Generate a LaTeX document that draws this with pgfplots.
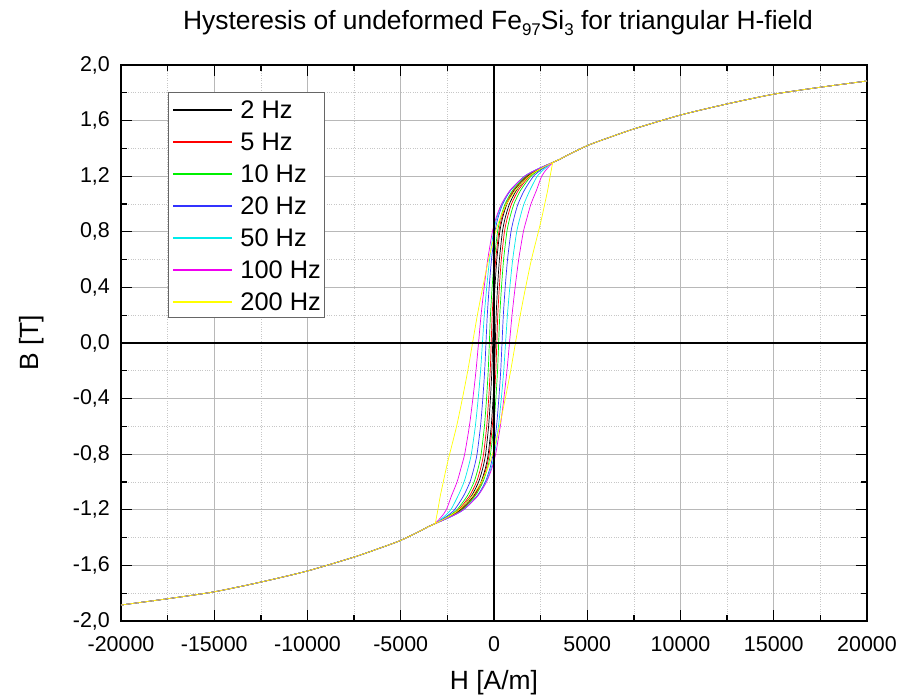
\documentclass[border=0pt]{standalone}
\usepackage{pgfplots}
\pgfplotsset{compat=1.18}
\usepackage{fontspec}
\setmainfont{Liberation Sans}
\definecolor{hzA}{RGB}{0,0,0}
\definecolor{hzB}{RGB}{255,0,0}
\definecolor{hzC}{RGB}{0,240,0}
\definecolor{hzD}{RGB}{50,50,255}
\definecolor{hzE}{RGB}{0,235,235}
\definecolor{hzF}{RGB}{240,0,240}
\definecolor{hzG}{RGB}{255,255,0}
\begin{document}
\begin{tikzpicture}
\useasboundingbox (-121bp,-77bp) rectangle (779bp,621bp);
\begin{axis}[
  scale only axis, width=746bp, height=556bp,
  xmin=-20000, xmax=20000, ymin=-2, ymax=2,
  xtick={-20000,-15000,-10000,-5000,0,5000,10000,15000,20000},
  ytick={-2,-1.6,-1.2,-0.8,-0.4,0,0.4,0.8,1.2,1.6,2},
  scaled x ticks=false, scaled y ticks=false,
  minor x tick num=1, minor y tick num=1,
  tick align=inside, major tick length=11bp, minor tick length=6bp,
  grid=both,
  major grid style={black!28, line width=0.8bp},
  minor grid style={black!22, dotted, line width=0.6bp},
  axis line style={line width=1.5bp},
  tick style={black, line width=1.3bp},
  /pgf/number format/assume math mode=true,
  ticklabel style={font=\fontsize{21.5}{25}\selectfont},
  x tick label style={inner sep=0pt, yshift=-15bp, /pgf/number format/.cd, fixed, precision=0, 1000 sep={}, assume math mode=true},
  y tick label style={inner sep=0pt, xshift=-11bp, /pgf/number format/.cd, fixed, fixed zerofill, precision=1, use comma, assume math mode=true},
  title={Hysteresis of undeformed Fe\raisebox{-0.5ex}{\fontsize{17}{20}\selectfont 97}Si\raisebox{-0.5ex}{\fontsize{17}{20}\selectfont 3} for triangular H-field},
  title style={font=\fontsize{26.5}{30}\selectfont, at={(axis description cs:0.5,1)}, anchor=base, yshift=30bp, xshift=4bp},
  xlabel={H [A/m]},
  xlabel style={font=\fontsize{26.5}{30}\selectfont, at={(axis description cs:0.5,-0.1115)}, anchor=center},
  ylabel={B [T]},
  ylabel style={font=\fontsize{26.5}{30}\selectfont, at={(axis description cs:-0.1193,0.5)}, anchor=center, rotate=0},
  legend cell align=left,
  legend image code/.code={\draw[#1, line width=2bp, sharp plot] (0bp,9bp) -- (59bp,9bp);},
  legend style={at={(0.063,0.951)}, anchor=north west, font=\fontsize{25.5}{30}\selectfont,
    draw=black!60, line width=0.8bp, inner xsep=4bp, inner ysep=7bp,
    nodes={inner sep=0pt, text height=19bp, text depth=0bp, anchor=base west},
    row sep=13bp, column sep=7bp},
  every axis plot/.append style={line width=0.7bp, smooth, tension=0.4},
]
% 2 Hz
\addplot[color=hzA] coordinates {
(-20000,-1.885) (-17500,-1.84) (-15000,-1.79) (-12500,-1.72) (-10000,-1.64) (-7500,-1.54) (-6000,-1.47) (-5000,-1.42) (-4000,-1.355) (-3500,-1.32) (-3170,-1.30)
(-2379,-1.25) (-1761,-1.2) (-1090,-1.1) (-693,-1.0) (-460,-0.9) (-310,-0.8) (-150,-0.6) (-50,-0.4) (25,-0.2) (70,0) (115,0.2) (190,0.4) (290,0.6) (450,0.8) (600,0.9) (827,1.0) (1210,1.1) (1839,1.2) (2421,1.25)
(3170,1.30) (3500,1.32) (4000,1.355) (5000,1.42) (6000,1.47) (7500,1.54) (10000,1.64) (12500,1.72) (15000,1.79) (17500,1.84) (20000,1.885)
(17500,1.84) (15000,1.79) (12500,1.72) (10000,1.64) (7500,1.54) (6000,1.47) (5000,1.42) (4000,1.355) (3500,1.32) (3170,1.30)
(2379,1.25) (1761,1.2) (1090,1.1) (693,1.0) (460,0.9) (310,0.8) (150,0.6) (50,0.4) (-25,0.2) (-70,0) (-115,-0.2) (-190,-0.4) (-290,-0.6) (-450,-0.8) (-600,-0.9) (-827,-1.0) (-1210,-1.1) (-1839,-1.2) (-2421,-1.25)
(-3170,-1.30) (-3500,-1.32) (-4000,-1.355) (-5000,-1.42) (-6000,-1.47) (-7500,-1.54) (-10000,-1.64) (-12500,-1.72) (-15000,-1.79) (-17500,-1.84) (-20000,-1.885)};
\addlegendentry{2 Hz}
% 5 Hz
\addplot[color=hzB] coordinates {
(-20000,-1.885) (-17500,-1.84) (-15000,-1.79) (-12500,-1.72) (-10000,-1.64) (-7500,-1.54) (-6000,-1.47) (-5000,-1.42) (-4000,-1.355) (-3500,-1.32) (-3170,-1.30)
(-2369,-1.25) (-1741,-1.2) (-1057,-1.1) (-652,-1.0) (-413,-0.9) (-260,-0.8) (-92,-0.6) (15,-0.4) (98,-0.2) (150,0) (202,0.2) (285,0.4) (392,0.6) (560,0.8) (713,0.9) (938,1.0) (1313,1.1) (1907,1.2) (2459,1.25)
(3170,1.30) (3500,1.32) (4000,1.355) (5000,1.42) (6000,1.47) (7500,1.54) (10000,1.64) (12500,1.72) (15000,1.79) (17500,1.84) (20000,1.885)
(17500,1.84) (15000,1.79) (12500,1.72) (10000,1.64) (7500,1.54) (6000,1.47) (5000,1.42) (4000,1.355) (3500,1.32) (3170,1.30)
(2369,1.25) (1741,1.2) (1057,1.1) (652,1.0) (413,0.9) (260,0.8) (92,0.6) (-15,0.4) (-98,0.2) (-150,0) (-202,-0.2) (-285,-0.4) (-392,-0.6) (-560,-0.8) (-713,-0.9) (-938,-1.0) (-1313,-1.1) (-1907,-1.2) (-2459,-1.25)
(-3170,-1.30) (-3500,-1.32) (-4000,-1.355) (-5000,-1.42) (-6000,-1.47) (-7500,-1.54) (-10000,-1.64) (-12500,-1.72) (-15000,-1.79) (-17500,-1.84) (-20000,-1.885)};
\addlegendentry{5 Hz}
% 10 Hz
\addplot[color=hzC] coordinates {
(-20000,-1.885) (-17500,-1.84) (-15000,-1.79) (-12500,-1.72) (-10000,-1.64) (-7500,-1.54) (-6000,-1.47) (-5000,-1.42) (-4000,-1.355) (-3500,-1.32) (-3170,-1.30)
(-2353,-1.25) (-1712,-1.2) (-1007,-1.1) (-593,-1.0) (-348,-0.9) (-190,-0.8) (-15,-0.6) (100,-0.4) (190,-0.2) (250,0) (310,0.2) (400,0.4) (515,0.6) (690,0.8) (848,0.9) (1069,1.0) (1433,1.1) (1988,1.2) (2503,1.25)
(3170,1.30) (3500,1.32) (4000,1.355) (5000,1.42) (6000,1.47) (7500,1.54) (10000,1.64) (12500,1.72) (15000,1.79) (17500,1.84) (20000,1.885)
(17500,1.84) (15000,1.79) (12500,1.72) (10000,1.64) (7500,1.54) (6000,1.47) (5000,1.42) (4000,1.355) (3500,1.32) (3170,1.30)
(2353,1.25) (1712,1.2) (1007,1.1) (593,1.0) (348,0.9) (190,0.8) (15,0.6) (-100,0.4) (-190,0.2) (-250,0) (-310,-0.2) (-400,-0.4) (-515,-0.6) (-690,-0.8) (-848,-0.9) (-1069,-1.0) (-1433,-1.1) (-1988,-1.2) (-2503,-1.25)
(-3170,-1.30) (-3500,-1.32) (-4000,-1.355) (-5000,-1.42) (-6000,-1.47) (-7500,-1.54) (-10000,-1.64) (-12500,-1.72) (-15000,-1.79) (-17500,-1.84) (-20000,-1.885)};
\addlegendentry{10 Hz}
% 20 Hz
\addplot[color=hzD] coordinates {
(-20000,-1.885) (-17500,-1.84) (-15000,-1.79) (-12500,-1.72) (-10000,-1.64) (-7500,-1.54) (-6000,-1.47) (-5000,-1.42) (-4000,-1.355) (-3500,-1.32) (-3170,-1.30)
(-2318,-1.25) (-1646,-1.2) (-901,-1.1) (-470,-1.0) (-213,-0.9) (-50,-0.8) (135,-0.6) (260,-0.4) (360,-0.2) (430,0) (500,0.2) (600,0.4) (725,0.6) (910,0.8) (1073,0.9) (1288,1.0) (1633,1.1) (2120,1.2) (2576,1.25)
(3170,1.30) (3500,1.32) (4000,1.355) (5000,1.42) (6000,1.47) (7500,1.54) (10000,1.64) (12500,1.72) (15000,1.79) (17500,1.84) (20000,1.885)
(17500,1.84) (15000,1.79) (12500,1.72) (10000,1.64) (7500,1.54) (6000,1.47) (5000,1.42) (4000,1.355) (3500,1.32) (3170,1.30)
(2318,1.25) (1646,1.2) (901,1.1) (470,1.0) (213,0.9) (50,0.8) (-135,0.6) (-260,0.4) (-360,0.2) (-430,0) (-500,-0.2) (-600,-0.4) (-725,-0.6) (-910,-0.8) (-1073,-0.9) (-1288,-1.0) (-1633,-1.1) (-2120,-1.2) (-2576,-1.25)
(-3170,-1.30) (-3500,-1.32) (-4000,-1.355) (-5000,-1.42) (-6000,-1.47) (-7500,-1.54) (-10000,-1.64) (-12500,-1.72) (-15000,-1.79) (-17500,-1.84) (-20000,-1.885)};
\addlegendentry{20 Hz}
% 50 Hz
\addplot[color=hzE] coordinates {
(-20000,-1.885) (-17500,-1.84) (-15000,-1.79) (-12500,-1.72) (-10000,-1.64) (-7500,-1.54) (-6000,-1.47) (-5000,-1.42) (-4000,-1.355) (-3500,-1.32) (-3170,-1.30)
(-2315,-1.25) (-1637,-1.2) (-875,-1.1) (-428,-1.0) (-153,-0.9) (24,-0.8) (238,-0.6) (392,-0.4) (521,-0.2) (620,0) (719,0.2) (848,0.4) (1002,0.6) (1216,0.8) (1393,0.9) (1606,1.0) (1929,1.1) (2319,1.2) (2687,1.25)
(3170,1.30) (3500,1.32) (4000,1.355) (5000,1.42) (6000,1.47) (7500,1.54) (10000,1.64) (12500,1.72) (15000,1.79) (17500,1.84) (20000,1.885)
(17500,1.84) (15000,1.79) (12500,1.72) (10000,1.64) (7500,1.54) (6000,1.47) (5000,1.42) (4000,1.355) (3500,1.32) (3170,1.30)
(2315,1.25) (1637,1.2) (875,1.1) (428,1.0) (153,0.9) (-24,0.8) (-238,0.6) (-392,0.4) (-521,0.2) (-620,0) (-719,-0.2) (-848,-0.4) (-1002,-0.6) (-1216,-0.8) (-1393,-0.9) (-1606,-1.0) (-1929,-1.1) (-2319,-1.2) (-2687,-1.25)
(-3170,-1.30) (-3500,-1.32) (-4000,-1.355) (-5000,-1.42) (-6000,-1.47) (-7500,-1.54) (-10000,-1.64) (-12500,-1.72) (-15000,-1.79) (-17500,-1.84) (-20000,-1.885)};
\addlegendentry{50 Hz}
% 100 Hz
\addplot[color=hzF] coordinates {
(-20000,-1.885) (-17500,-1.84) (-15000,-1.79) (-12500,-1.72) (-10000,-1.64) (-7500,-1.54) (-6000,-1.47) (-5000,-1.42) (-4000,-1.355) (-3500,-1.32) (-3170,-1.30)
(-2322,-1.25) (-1643,-1.2) (-869,-1.1) (-403,-1.0) (-110,-0.9) (86,-0.8) (337,-0.6) (528,-0.4) (694,-0.2) (830,0) (966,0.2) (1132,0.4) (1323,0.6) (1574,0.8) (1770,0.9) (1981,1.0) (2281,1.1) (2557,1.2) (2820,1.25)
(3170,1.30) (3500,1.32) (4000,1.355) (5000,1.42) (6000,1.47) (7500,1.54) (10000,1.64) (12500,1.72) (15000,1.79) (17500,1.84) (20000,1.885)
(17500,1.84) (15000,1.79) (12500,1.72) (10000,1.64) (7500,1.54) (6000,1.47) (5000,1.42) (4000,1.355) (3500,1.32) (3170,1.30)
(2322,1.25) (1643,1.2) (869,1.1) (403,1.0) (110,0.9) (-86,0.8) (-337,0.6) (-528,0.4) (-694,0.2) (-830,0) (-966,-0.2) (-1132,-0.4) (-1323,-0.6) (-1574,-0.8) (-1770,-0.9) (-1981,-1.0) (-2281,-1.1) (-2557,-1.2) (-2820,-1.25)
(-3170,-1.30) (-3500,-1.32) (-4000,-1.355) (-5000,-1.42) (-6000,-1.47) (-7500,-1.54) (-10000,-1.64) (-12500,-1.72) (-15000,-1.79) (-17500,-1.84) (-20000,-1.885)};
\addlegendentry{100 Hz}
% 200 Hz
\addplot[color=hzG] coordinates {
(-20000,-1.885) (-17500,-1.84) (-15000,-1.79) (-12500,-1.72) (-10000,-1.64) (-7500,-1.54) (-6000,-1.47) (-5000,-1.42) (-4000,-1.355) (-3500,-1.32) (-3170,-1.30)
(-2453,-1.25) (-1868,-1.2) (-1165,-1.1) (-676,-1.0) (-336,-0.9) (-80,-0.8) (293,-0.6) (605,-0.4) (893,-0.2) (1150,0) (1407,0.2) (1695,0.4) (2007,0.6) (2380,0.8) (2560,0.9) (2720,1.0) (2880,1.1) (3010,1.2) (3080,1.25)
(3170,1.30) (3500,1.32) (4000,1.355) (5000,1.42) (6000,1.47) (7500,1.54) (10000,1.64) (12500,1.72) (15000,1.79) (17500,1.84) (20000,1.885)
(17500,1.84) (15000,1.79) (12500,1.72) (10000,1.64) (7500,1.54) (6000,1.47) (5000,1.42) (4000,1.355) (3500,1.32) (3170,1.30)
(2453,1.25) (1868,1.2) (1165,1.1) (676,1.0) (336,0.9) (80,0.8) (-293,0.6) (-605,0.4) (-893,0.2) (-1150,0) (-1407,-0.2) (-1695,-0.4) (-2007,-0.6) (-2380,-0.8) (-2560,-0.9) (-2720,-1.0) (-2880,-1.1) (-3010,-1.2) (-3080,-1.25)
(-3170,-1.30) (-3500,-1.32) (-4000,-1.355) (-5000,-1.42) (-6000,-1.47) (-7500,-1.54) (-10000,-1.64) (-12500,-1.72) (-15000,-1.79) (-17500,-1.84) (-20000,-1.885)};
\addlegendentry{200 Hz}
% zero lines
\addplot[black, line width=1.4bp, sharp plot, forget plot] coordinates {(-20000,0) (20000,0)};
\addplot[black, line width=1.4bp, sharp plot, forget plot] coordinates {(0,-2) (0,2)};
\end{axis}
\end{tikzpicture}
\end{document}
